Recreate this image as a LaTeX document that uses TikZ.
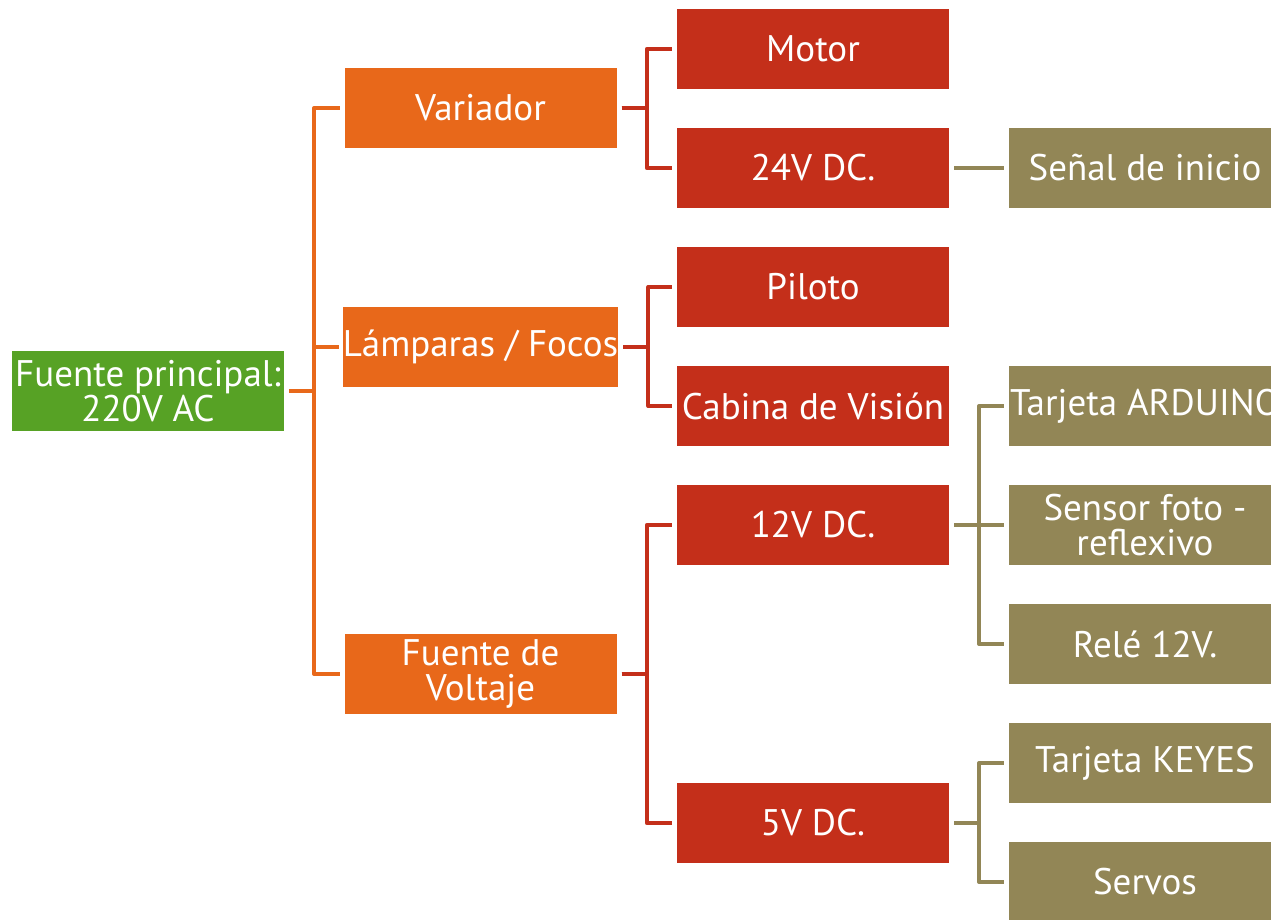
\documentclass[tikz,border=0pt]{standalone}
\usepackage{fontspec}
\setmainfont{PT Sans}
\definecolor{cgreen}{HTML}{57A225}
\definecolor{corange}{HTML}{E8681A}
\definecolor{cred}{HTML}{C42F1A}
\definecolor{colive}{HTML}{928656}
\tikzset{
  box/.style={rectangle, minimum width=272pt, minimum height=80pt, inner sep=0pt,
    text=white, align=center, font=\fontsize{37}{35}\selectfont},
  gbox/.style={box, fill=cgreen},
  obox/.style={box, fill=corange},
  rbox/.style={box, fill=cred},
  ybox/.style={box, fill=colive},
  conn/.style={line width=4pt, line join=round, line cap=butt},
  lo/.style={conn, draw=corange},
  lr/.style={conn, draw=cred},
  ly/.style={conn, draw=colive},
}
\begin{document}
\begin{tikzpicture}[x=1pt,y=-1pt]
\useasboundingbox (0,0) rectangle (1271,920);
\clip (0,0) rectangle (1271,920);
\fill[white] (0,0) rectangle (1271,920);
% nodes
\node[gbox] (fp) at (148,391) {Fuente principal:\\220V AC};
\node[obox] (var) at (480.5,108) {Variador};
\node[obox] (lam) at (480.5,347) {Lámparas / Focos};
\node[obox] (fv) at (480.5,674) {Fuente de\\Voltaje};
\node[rbox] (mot) at (813,49) {Motor};
\node[rbox] (v24) at (813,168) {24V DC.};
\node[rbox] (pil) at (813,287) {Piloto};
\node[rbox] (cab) at (813,406) {Cabina de Visión};
\node[rbox] (v12) at (813,525) {12V DC.};
\node[rbox] (v5) at (813,823) {5V DC.};
\node[ybox] (sen) at (1145,168) {Señal de inicio};
\node[ybox] (ard) at (1145,406) {Tarjeta ARDUINO};
\node[ybox] (sfr) at (1145,525) {Sensor foto -\\reflexivo};
\node[ybox] (rel) at (1145,644) {Relé 12V.};
\node[ybox] (key) at (1145,763) {Tarjeta KEYES};
\node[ybox] (ser) at (1145,882) {Servos};
% level 1
\foreach \c in {var,lam,fv}
  \draw[lo] ([xshift=5pt]fp.east) -- ++(25,0) |- ([xshift=-4pt]\c.west);
% level 2
\foreach \c in {mot,v24}
  \draw[lr] ([xshift=5pt]var.east) -- ++(25,0) |- ([xshift=-5pt]\c.west);
\foreach \c in {pil,cab}
  \draw[lr] ([xshift=5pt]lam.east) -- ++(25,0) |- ([xshift=-5pt]\c.west);
\foreach \c in {v12,v5}
  \draw[lr] ([xshift=5pt]fv.east) -- ++(25,0) |- ([xshift=-5pt]\c.west);
% level 3
\draw[ly] ([xshift=5pt]v24.east) -- ([xshift=-5pt]sen.west);
\foreach \c in {ard,sfr,rel}
  \draw[ly] ([xshift=5pt]v12.east) -- ++(25,0) |- ([xshift=-5pt]\c.west);
\foreach \c in {key,ser}
  \draw[ly] ([xshift=5pt]v5.east) -- ++(25,0) |- ([xshift=-5pt]\c.west);
\end{tikzpicture}
\end{document}
